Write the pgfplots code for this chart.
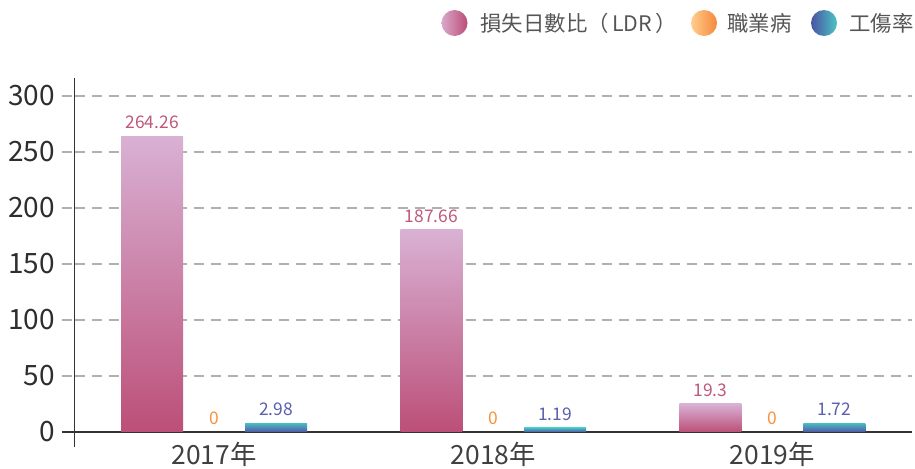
\documentclass[border=0pt]{standalone}
\usepackage{fontspec}
\setmainfont{Noto Sans CJK TC}
\usepackage{pgfplots}
\pgfplotsset{compat=1.18}
\definecolor{pinkTop}{HTML}{D9B1D4}
\definecolor{pinkBot}{HTML}{BC4F78}
\definecolor{blueTop}{HTML}{47BFC2}
\definecolor{blueBot}{HTML}{5255A6}
\definecolor{pinkLab}{HTML}{C0577D}
\definecolor{orangeLab}{HTML}{F7923A}
\definecolor{blueLab}{HTML}{5A5FAE}
\definecolor{gridgray}{HTML}{B0B0B0}
\definecolor{axisgray}{HTML}{333333}
\definecolor{ticklab}{HTML}{2E2E2E}
\definecolor{xlab}{HTML}{404040}
\definecolor{leggray}{HTML}{555555}
\definecolor{pinkL}{HTML}{D9A9CB}
\definecolor{pinkR}{HTML}{BC4D77}
\definecolor{orL}{HTML}{FFCD8E}
\definecolor{orR}{HTML}{F5883A}
\definecolor{blL}{HTML}{4A53A4}
\definecolor{blR}{HTML}{4CC4C3}
\begin{document}
\begin{tikzpicture}[x=1pt,y=1pt]
\useasboundingbox (0,0) rectangle (457.5,234);
\begin{axis}[
  at={(37.25pt,10.35pt)}, anchor=south west,
  scale only axis, width=418.75pt, height=184.5pt,
  xmin=-0.5, xmax=2.5, ymin=-13.7, ymax=315.8,
  axis y line*=left, axis x line*=bottom,
  x axis line style={draw=none},
  y axis line style={color=axisgray, line width=0.75pt},
  xtick={0,1,2}, xticklabels={2017年,2018年,2019年},
  xtick style={draw=none},
  ytick={50,100,...,300},
  tick align=outside, major tick length=6.25pt,
  ytick style={dash pattern=on 5pt off 3.5pt, color=gridgray, line width=0.7pt},
  ymajorgrids,
  major grid style={dash pattern=on 5pt off 3.5pt, color=gridgray, line width=0.7pt},
  extra y ticks={0},
  extra y tick style={ymajorgrids=true, major grid style={solid, color=axisgray, line width=0.75pt}, ytick style={solid, color=axisgray, line width=0.75pt}},
  /pgf/number format/assume math mode=true,
  yticklabel style={font=\fontsize{14}{14}\selectfont, text=ticklab},
  xticklabel style={font=\fontsize{13.2}{13.2}\selectfont, text=xlab, yshift=12.5pt},
  clip=false,
]
% LDR bars (heights as drawn)
\addplot[ybar, bar width=0.222, bar shift=0pt, draw=none, top color=pinkTop, bottom color=pinkBot] coordinates {(-0.222,264.26)};
\addplot[ybar, bar width=0.222, bar shift=0pt, draw=none, top color=pinkTop, bottom color=pinkBot] coordinates {(0.778,180.4)};
\addplot[ybar, bar width=0.222, bar shift=0pt, draw=none, top color=pinkTop, bottom color=pinkBot] coordinates {(1.778,25)};
% injury rate bars (heights as drawn)
\addplot[ybar, bar width=0.222, bar shift=0pt, draw=none, top color=blueTop, bottom color=blueBot] coordinates {(0.222,8.0)};
\addplot[ybar, bar width=0.222, bar shift=0pt, draw=none, top color=blueTop, bottom color=blueBot] coordinates {(1.222,3.6)};
\addplot[ybar, bar width=0.222, bar shift=0pt, draw=none, top color=blueTop, bottom color=blueBot] coordinates {(2.222,8.0)};
% labels
\addplot[draw=none, no marks, nodes near coords, point meta=explicit symbolic,
  nodes near coords style={text=pinkLab, font=\fontsize{8.7}{8.7}\selectfont, anchor=south}]
  table[meta=l] {
x y l
-0.222 264.26 264.26
0.778 180.4 187.66
1.778 25 19.3
};
\addplot[draw=none, no marks, nodes near coords, point meta=explicit symbolic,
  nodes near coords style={text=orangeLab, font=\fontsize{8.7}{8.7}\selectfont, anchor=south}]
  table[meta=l] {
x y l
0 0 0
1 0 0
2 0 0
};
\addplot[draw=none, no marks, nodes near coords, point meta=explicit symbolic,
  nodes near coords style={text=blueLab, font=\fontsize{8.7}{8.7}\selectfont, anchor=south}]
  table[meta=l] {
x y l
0.222 8.0 2.98
1.222 3.6 1.19
2.222 8.0 1.72
};
\end{axis}
% legend
\shade[left color=pinkL, right color=pinkR] (227.25,222.5) circle (6.5);
\node[anchor=west, text=leggray, font=\fontsize{10.7}{10.7}\selectfont, inner sep=0pt] at (240,222.5) {損失日數比（\,LDR\,）};
\shade[left color=orL, right color=orR] (352,222.5) circle (6.5);
\node[anchor=west, text=leggray, font=\fontsize{10.7}{10.7}\selectfont, inner sep=0pt] at (363.5,222.5) {職業病};
\shade[left color=blL, right color=blR] (412,222.5) circle (6.5);
\node[anchor=west, text=leggray, font=\fontsize{10.7}{10.7}\selectfont, inner sep=0pt] at (424.5,222.5) {工傷率};
\end{tikzpicture}
\end{document}
